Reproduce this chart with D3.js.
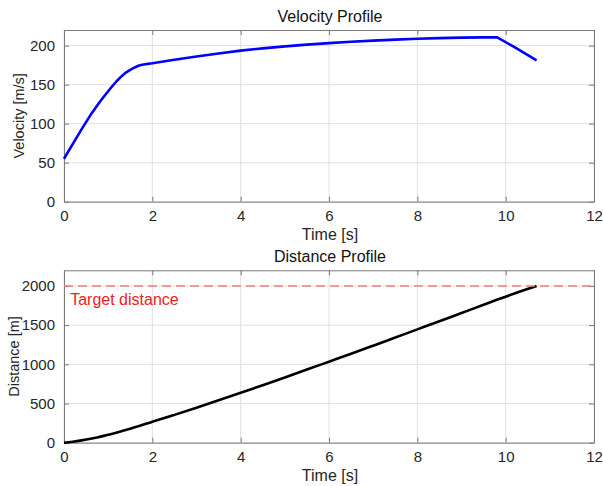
<!DOCTYPE html>
<html>
<head>
<meta charset="utf-8">
<script src="https://cdn.jsdelivr.net/npm/d3@7"></script>
<style>
  body { margin: 0; background: #fff; }
  svg text { font-family: "Liberation Sans", Arial, sans-serif; }
</style>
</head>
<body>
<svg id="chart" width="603" height="486"></svg>
<script>
// values
var time = [0, 0.2, 0.4, 0.6, 0.8, 0.9, 1.0, 1.1, 1.2, 1.3, 1.4, 1.5, 1.6, 1.7, 1.8, 1.9, 2.0, 2.5, 3, 3.5, 4, 4.5, 5, 5.5, 6, 6.5, 7, 7.5, 8, 8.5, 9, 9.5, 9.8, 10.2, 10.7];
var velocity = [55, 74, 93, 111, 127, 134.5, 141.5, 148.5, 155, 160.5, 165.5, 169, 172, 174.5, 175.8, 176.6, 177.3, 181.8, 186, 190, 193.6, 196.5, 199, 201.3, 203.2, 205, 206.4, 207.7, 208.8, 209.6, 210.2, 210.6, 210.8, 198, 181];
var distance = [0, 13, 30, 50, 74, 87, 101, 115, 130, 146, 163, 179, 196, 214, 231, 249, 266, 355, 447, 541, 637, 734, 833, 933, 1034, 1135, 1238, 1342, 1446, 1550, 1655, 1760, 1823, 1905, 2000];
var targetDistance = 2000;
var xTicks = [0, 2, 4, 6, 8, 10, 12];
var velTicks = [0, 50, 100, 150, 200];
var distTicks = [0, 500, 1000, 1500, 2000];

var svg = d3.select("#chart");
var left = 64, right = 594;

var x = d3.scaleLinear().domain([0, 12]).range([left, right]);

function panel(top, bottom, yMax, yTicks, values, color, curve, title, ylab, ylabX) {
    var y = d3.scaleLinear().domain([0, yMax]).range([bottom, top]);
    var g = svg.append("g");

    // grid
    g.selectAll("line.gx").data(xTicks).enter().append("line")
        .attr("x1", d => x(d)).attr("x2", d => x(d))
        .attr("y1", top).attr("y2", bottom)
        .attr("stroke", "#e0e0e0").attr("stroke-width", 1);
    g.selectAll("line.gy").data(yTicks).enter().append("line")
        .attr("x1", left).attr("x2", right)
        .attr("y1", d => y(d)).attr("y2", d => y(d))
        .attr("stroke", "#e0e0e0").attr("stroke-width", 1);

    // axes, ticks pointing in
    var fmt = d3.format("d");
    var axB = g.append("g").attr("transform", "translate(0," + bottom + ")")
        .call(d3.axisBottom(x).tickValues(xTicks).tickFormat(fmt).tickSizeInner(-5).tickSizeOuter(0).tickPadding(9));
    var axT = g.append("g").attr("transform", "translate(0," + top + ")")
        .call(d3.axisTop(x).tickValues(xTicks).tickSizeInner(-5).tickSizeOuter(0).tickFormat(""));
    var axL = g.append("g").attr("transform", "translate(" + left + ",0)")
        .call(d3.axisLeft(y).tickValues(yTicks).tickFormat(fmt).tickSizeInner(-5).tickSizeOuter(0).tickPadding(9));
    var axR = g.append("g").attr("transform", "translate(" + right + ",0)")
        .call(d3.axisRight(y).tickValues(yTicks).tickSizeInner(-5).tickSizeOuter(0).tickFormat(""));
    [axB, axT, axL, axR].forEach(function (a) {
        a.select(".domain").attr("stroke", "#7a7a7a");
        a.selectAll(".tick line").attr("stroke", "#7a7a7a");
        a.selectAll(".tick text").attr("fill", "#262626").style("font-size", "15px");
    });

    var line = d3.line().x((d, i) => x(time[i])).y(d => y(d)).curve(curve);
    g.append("path").datum(values)
        .attr("d", line)
        .attr("fill", "none")
        .attr("stroke", color)
        .attr("stroke-width", 2.6)
        .attr("stroke-linejoin", "round");

    g.append("text").attr("x", (left + right) / 2 + 1).attr("y", top - 8)
        .attr("text-anchor", "middle").attr("fill", "#111").style("font-size", "16px")
        .text(title);
    g.append("text").attr("x", (left + right) / 2 + 1).attr("y", bottom + 38)
        .attr("text-anchor", "middle").attr("fill", "#262626").style("font-size", "16px")
        .text("Time [s]");
    g.append("text")
        .attr("transform", "translate(" + ylabX + "," + (top + bottom) / 2 + ") rotate(-90)")
        .attr("text-anchor", "middle").attr("fill", "#262626").style("font-size", "14.5px")
        .text(ylab);
    return { g: g, y: y };
}

panel(30, 201.7, 220, velTicks, velocity, "#0000ff", d3.curveLinear, "Velocity Profile", "Velocity [m/s]", 24);
var p2 = panel(270.3, 442.7, 2200, distTicks, distance, "#000000", d3.curveMonotoneX, "Distance Profile", "Distance [m]", 19);

// target distance line
p2.g.append("line")
    .attr("x1", left).attr("x2", right)
    .attr("y1", p2.y(targetDistance)).attr("y2", p2.y(targetDistance))
    .attr("stroke", "#ee7f80").attr("stroke-width", 1.5)
    .attr("stroke-dasharray", "9,5");
p2.g.append("text")
    .attr("x", x(0.14)).attr("y", p2.y(targetDistance) + 19)
    .attr("fill", "#ee1c24").style("font-size", "16px")
    .text("Target distance");
</script>
</body>
</html>
